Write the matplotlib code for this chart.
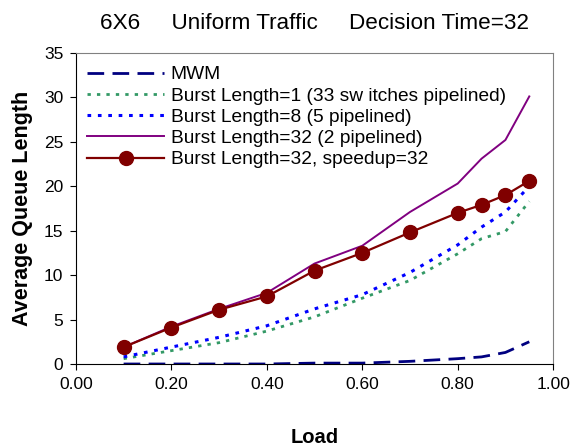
import numpy as np
import matplotlib.pyplot as plt

plt.rcParams['font.family'] = ['Liberation Sans', 'DejaVu Sans']

# load values on the x axis
load = [0.1, 0.2, 0.3, 0.4, 0.5, 0.6, 0.7, 0.8, 0.85, 0.9, 0.95]

# average queue length for each scheme
mwm = [0.0, 0.0, 0.0, 0.0, 0.1, 0.1, 0.3, 0.6, 0.8, 1.3, 2.5]
burst1 = [0.6, 1.5, 2.4, 3.7, 5.3, 7.4, 9.4, 12.4, 14.1, 14.9, 18.3]
burst8 = [0.8, 1.9, 3.0, 4.3, 6.2, 7.8, 10.3, 13.4, 15.4, 17.1, 20.0]
burst32 = [1.9, 4.2, 6.2, 8.0, 11.3, 13.3, 17.1, 20.3, 23.1, 25.2, 30.1]
speedup = [1.9, 4.1, 6.1, 7.6, 10.5, 12.5, 14.8, 17.0, 17.9, 19.0, 20.6]

labels = ["MWM",
          "Burst Length=1 (33 sw itches pipelined)",
          "Burst Length=8 (5 pipelined)",
          "Burst Length=32 (2 pipelined)",
          "Burst Length=32, speedup=32"]

fig = plt.figure(figsize=(5.75, 4.48), dpi=100)
ax = fig.add_axes([0.132, 0.1875, 0.83, 0.6945])

ax.plot(load, mwm, color='#000080', linestyle=(0, (6, 3)), linewidth=2, label=labels[0])
ax.plot(load, burst1, color='#339966', linestyle=(0, (1.2, 2.2)), linewidth=2, label=labels[1])
ax.plot(load, burst8, color='#0000FF', linestyle=(0, (1.2, 2.2)), linewidth=2.2, label=labels[2])
ax.plot(load, burst32, color='#800080', linewidth=1.4, label=labels[3])
ax.plot(load, speedup, color='#800000', linewidth=1.6, marker='o', markersize=10, label=labels[4])

ax.set_xlim(0, 1.0)
ax.set_ylim(0, 35)
ax.set_xticks(np.arange(0, 1.01, 0.2))
ax.set_xticklabels(["%.2f" % v for v in np.arange(0, 1.01, 0.2)])
ax.set_yticks(range(0, 36, 5))
ax.tick_params(labelsize=12.5, direction='out', length=4, pad=5)

for side in ['top', 'right']:
    ax.spines[side].set_color('#808080')
ax.spines['left'].set_color('black')
ax.spines['bottom'].set_color('black')

ax.set_xlabel("Load", fontsize=14.5, fontweight='bold', labelpad=26)
ax.set_ylabel("Average Queue Length", fontsize=15.5, fontweight='bold', labelpad=8)
ax.set_title("6X6     Uniform Traffic     Decision Time=32", fontsize=16.2, pad=17)

ax.legend(loc='upper left', frameon=False, fontsize=13.8, handlelength=4.0,
          labelspacing=0.2, borderaxespad=0.2, handletextpad=0.35,
          bbox_to_anchor=(0.0, 0.995))

fig.savefig("out.png", dpi=100)
